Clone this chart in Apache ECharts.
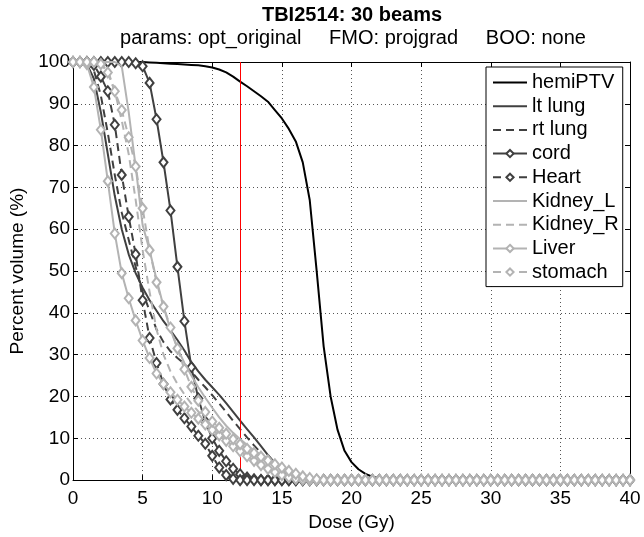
<!DOCTYPE html>
<html>
<head>
<meta charset="utf-8">
<script src="https://cdn.jsdelivr.net/npm/echarts@6/dist/echarts.min.js"></script>
<style>html,body{margin:0;padding:0;background:#fff;}#c{width:644px;height:537px;}</style>
</head>
<body>
<div id="c"></div>
<script>
const titleText = 'TBI2514: 30 beams';
const subtitleText = 'params: opt_original     FMO: projgrad     BOO: none';
const xAxisName = 'Dose (Gy)';
const yAxisName = 'Percent volume (%)';
const referenceDose = 12;
const seriesNames = ['hemiPTV','lt lung','rt lung','cord','Heart','Kidney_L','Kidney_R','Liver','stomach'];

const dose = [
 0,0.5,1,1.5,2,2.5,3,3.5,4,4.5,
 5,5.5,6,6.5,7,7.5,8,8.5,9,9.5,
 10,10.5,11,11.5,12,12.5,13,13.5,14,14.5,
 15,15.5,16,16.5,17,17.5,18,18.5,19,19.5,
 20,20.5,21,21.5,22,22.5,23,23.5,24,24.5,
 25,25.5,26,26.5,27,27.5,28,28.5,29,29.5,
 30,30.5,31,31.5,32,32.5,33,33.5,34,34.5,
 35,35.5,36,36.5,37,37.5,38,38.5,39,39.5,
 40];

const hemiPTV = [
 100,100,100,100,100,100,100,100,100,100,
 100,99.9,99.8,99.7,99.6,99.5,99.4,99.3,99.2,99.0,
 98.7,98.2,97.5,96.5,95.3,94.2,93.0,91.8,90.5,88.5,
 86.5,84,81,76,67,50,32,20,12,7,
 4.3,2.6,1.5,0.8,0.4,0.2,0.1,0,0,0,
 0,0,0,0,0,0,0,0,0,0,
 0,0,0,0,0,0,0,0,0,0,
 0,0,0,0,0,0,0,0,0,0,
 0];
const ltLung = [
 100,100,99.5,96,88,78,68,60,54,49.5,
 46,43,40.5,38,35.8,33.5,31,28.2,26,24,
 22.2,20.4,18.4,16.3,14.2,12.2,10.2,8.1,6,4.1,
 2.5,1.3,0.6,0.2,0,0,0,0,0,0,
 0,0,0,0,0,0,0,0,0,0,
 0,0,0,0,0,0,0,0,0,0,
 0,0,0,0,0,0,0,0,0,0,
 0,0,0,0,0,0,0,0,0,0,
 0];
const rtLung = [
 100,100,100,98,92,83,73,64,57.5,51,
 45,40.5,36,33,30.8,29.2,27.8,26,24,22.2,
 20.3,18.3,16.3,14.2,12.2,10.2,8.3,6.5,4.8,3.3,
 2,1,0.4,0.1,0,0,0,0,0,0,
 0,0,0,0,0,0,0,0,0,0,
 0,0,0,0,0,0,0,0,0,0,
 0,0,0,0,0,0,0,0,0,0,
 0,0,0,0,0,0,0,0,0,0,
 0];
const cord = [
 100,100,100,100,100,100,100,100,100,99.7,
 99,95,86.3,76,64.5,51,38,27,19.5,14,
 10,7,4.5,2.7,1.4,0.6,0.2,0,0,0,
 0,0,0,0,0,0,0,0,0,0,
 0,0,0,0,0,0,0,0,0,0,
 0,0,0,0,0,0,0,0,0,0,
 0,0,0,0,0,0,0,0,0,0,
 0,0,0,0,0,0,0,0,0,0,
 0];
const heart = [
 100,100,100,99.3,96.5,93,85,73,63,54,
 43,34,28,23,19.3,16.8,14.8,12.8,10.6,8.7,
 5.8,3,1.2,0.3,0,0,0,0,0,0,
 0,0,0,0,0,0,0,0,0,0,
 0,0,0,0,0,0,0,0,0,0,
 0,0,0,0,0,0,0,0,0,0,
 0,0,0,0,0,0,0,0,0,0,
 0,0,0,0,0,0,0,0,0,0,
 0];
const kidneyL = [
 100,100,100,100,100,100,100,99,88,75,
 61,55,48,41.5,36,31.5,28,25,22.2,19.7,
 17.3,15,13,11.3,9.8,8.4,7.1,5.9,4.8,3.8,
 3.0,2.3,1.6,1.0,0.5,0.2,0,0,0,0,
 0,0,0,0,0,0,0,0,0,0,
 0,0,0,0,0,0,0,0,0,0,
 0,0,0,0,0,0,0,0,0,0,
 0,0,0,0,0,0,0,0,0,0,
 0];
const kidneyR = [
 100,100,100,100,99.5,98,93,86,78,67,
 55,45,36,30,26,23,20.5,18.3,16.4,14.6,
 12.9,11.3,9.8,8.4,7.1,5.9,4.8,3.8,2.9,2.1,
 1.4,0.8,0.4,0.1,0,0,0,0,0,0,
 0,0,0,0,0,0,0,0,0,0,
 0,0,0,0,0,0,0,0,0,0,
 0,0,0,0,0,0,0,0,0,0,
 0,0,0,0,0,0,0,0,0,0,
 0];
const liver = [
 100,100,99.5,94,83.8,71.5,59,49.5,43.5,38.2,
 33.4,29.2,25.5,23,21,19.2,17.6,16.1,14.7,13.3,
 12,10.7,9.4,8.1,6.9,5.7,4.6,3.6,2.7,1.9,
 1.2,0.7,0.3,0.1,0,0,0,0,0,0,
 0,0,0,0,0,0,0,0,0,0,
 0,0,0,0,0,0,0,0,0,0,
 0,0,0,0,0,0,0,0,0,0,
 0,0,0,0,0,0,0,0,0,0,
 0];
const stomach = [
 100,100,100,100,99.5,97.5,93,88.5,82,75,
 65,55,47.3,41.5,36.5,31.5,26.5,22.3,19,16.3,
 14,12.5,11.1,9.8,8.6,7.5,6.5,5.6,4.7,3.8,
 3,2.2,1.5,0.9,0.5,0.2,0,0,0,0,
 0,0,0,0,0,0,0,0,0,0,
 0,0,0,0,0,0,0,0,0,0,
 0,0,0,0,0,0,0,0,0,0,
 0,0,0,0,0,0,0,0,0,0,
 0];

const seriesValues = [hemiPTV, ltLung, rtLung, cord, heart, kidneyL, kidneyR, liver, stomach];
const DARK = '#404040', LIGHT = '#b3b3b3';
const styles = [
  {color:'#000000', dash:'solid', marker:false},
  {color:DARK, dash:'solid', marker:false},
  {color:DARK, dash:[8,5], marker:false},
  {color:DARK, dash:'solid', marker:true},
  {color:DARK, dash:[8,5], marker:true},
  {color:LIGHT, dash:'solid', marker:false},
  {color:LIGHT, dash:[8,5], marker:false},
  {color:LIGHT, dash:'solid', marker:true},
  {color:LIGHT, dash:[8,5], marker:true}
];
const FONT = 'Liberation Sans, Arial, Helvetica, sans-serif';

const series = seriesNames.map((name, i) => {
  const st = styles[i];
  const s = {
    name: name,
    type: 'line',
    data: dose.map((d, j) => [d, seriesValues[i][j]]),
    showAllSymbol: true,
    symbol: st.marker ? 'emptyDiamond' : 'none',
    symbolSize: [8, 10],
    color: st.color,
    itemStyle: {color: st.color, borderColor: st.color, borderWidth: 1.5},
    lineStyle: {color: st.color, width: 2, type: st.dash},
    emphasis: {disabled: true},
    animation: false,
    silent: true,
    z: 2 + i
  };
  if (i === seriesNames.length - 1) {
    s.markLine = {
      silent: true, symbol: ['none','none'], animation: false,
      label: {show: false},
      lineStyle: {color: '#ff0000', width: 1, type: 'solid'},
      data: [{xAxis: referenceDose}]
    };
  }
  return s;
});

const legendData = seriesNames.map((name, i) =>
  styles[i].marker ? {name: name} : {name: name, itemStyle: {opacity: 0}});

const chart = echarts.init(document.getElementById('c'), null, {renderer: 'canvas'});
const gridLine = {show: true, lineStyle: {color: '#555', width: 1, type: [1, 3]}};
chart.setOption({
  backgroundColor: '#ffffff',
  animation: false,
  textStyle: {fontFamily: FONT},
  title: [
    {text: titleText, left: 352, top: 5, padding: 0, textAlign: 'center',
     textStyle: {fontFamily: FONT, fontSize: 20, fontWeight: 'bold', color: '#000'}},
    {text: subtitleText, left: 353, top: 28.5, padding: 0, textAlign: 'center',
     textStyle: {fontFamily: FONT, fontSize: 20, fontWeight: 'normal', color: '#000'}}
  ],
  grid: {left: 73, right: 14, top: 62, bottom: 55, containLabel: false},
  legend: {
    data: legendData,
    orient: 'vertical',
    left: 486, top: 67,
    backgroundColor: '#ffffff',
    borderColor: '#000', borderWidth: 1,
    padding: [5, 4, 4, 6],
    itemWidth: 34, itemHeight: 9, itemGap: 2.7,
    textStyle: {fontFamily: FONT, fontSize: 20, color: '#000', lineHeight: 21},
    selectedMode: false
  },
  xAxis: [
    {type: 'value', min: 0, max: 40, interval: 5, name: xAxisName, nameLocation: 'middle', nameGap: 31,
     nameTextStyle: {fontFamily: FONT, fontSize: 19, color: '#000'},
     axisLine: {show: true, onZero: false, lineStyle: {color: '#000', width: 1}},
     axisTick: {show: true, inside: true, length: 5, lineStyle: {color: '#000'}},
     axisLabel: {fontFamily: FONT, fontSize: 19, color: '#000', margin: 9},
     splitLine: gridLine},
    {type: 'value', min: 0, max: 40, interval: 5, position: 'top',
     axisLine: {show: true, onZero: false, lineStyle: {color: '#000', width: 1}},
     axisTick: {show: true, inside: true, length: 5, lineStyle: {color: '#000'}},
     axisLabel: {show: false}, splitLine: {show: false}}
  ],
  yAxis: [
    {type: 'value', min: 0, max: 100, interval: 10, name: yAxisName, nameLocation: 'middle', nameGap: 43,
     nameTextStyle: {fontFamily: FONT, fontSize: 19, color: '#000'},
     axisLine: {show: true, onZero: false, lineStyle: {color: '#000', width: 1}},
     axisTick: {show: true, inside: true, length: 5, lineStyle: {color: '#000'}},
     axisLabel: {fontFamily: FONT, fontSize: 19, color: '#000', margin: 3},
     splitLine: gridLine},
    {type: 'value', min: 0, max: 100, interval: 10, position: 'right',
     axisLine: {show: true, onZero: false, lineStyle: {color: '#000', width: 1}},
     axisTick: {show: true, inside: true, length: 5, lineStyle: {color: '#000'}},
     axisLabel: {show: false}, splitLine: {show: false}}
  ],
  series: series
});
</script>
</body>
</html>
